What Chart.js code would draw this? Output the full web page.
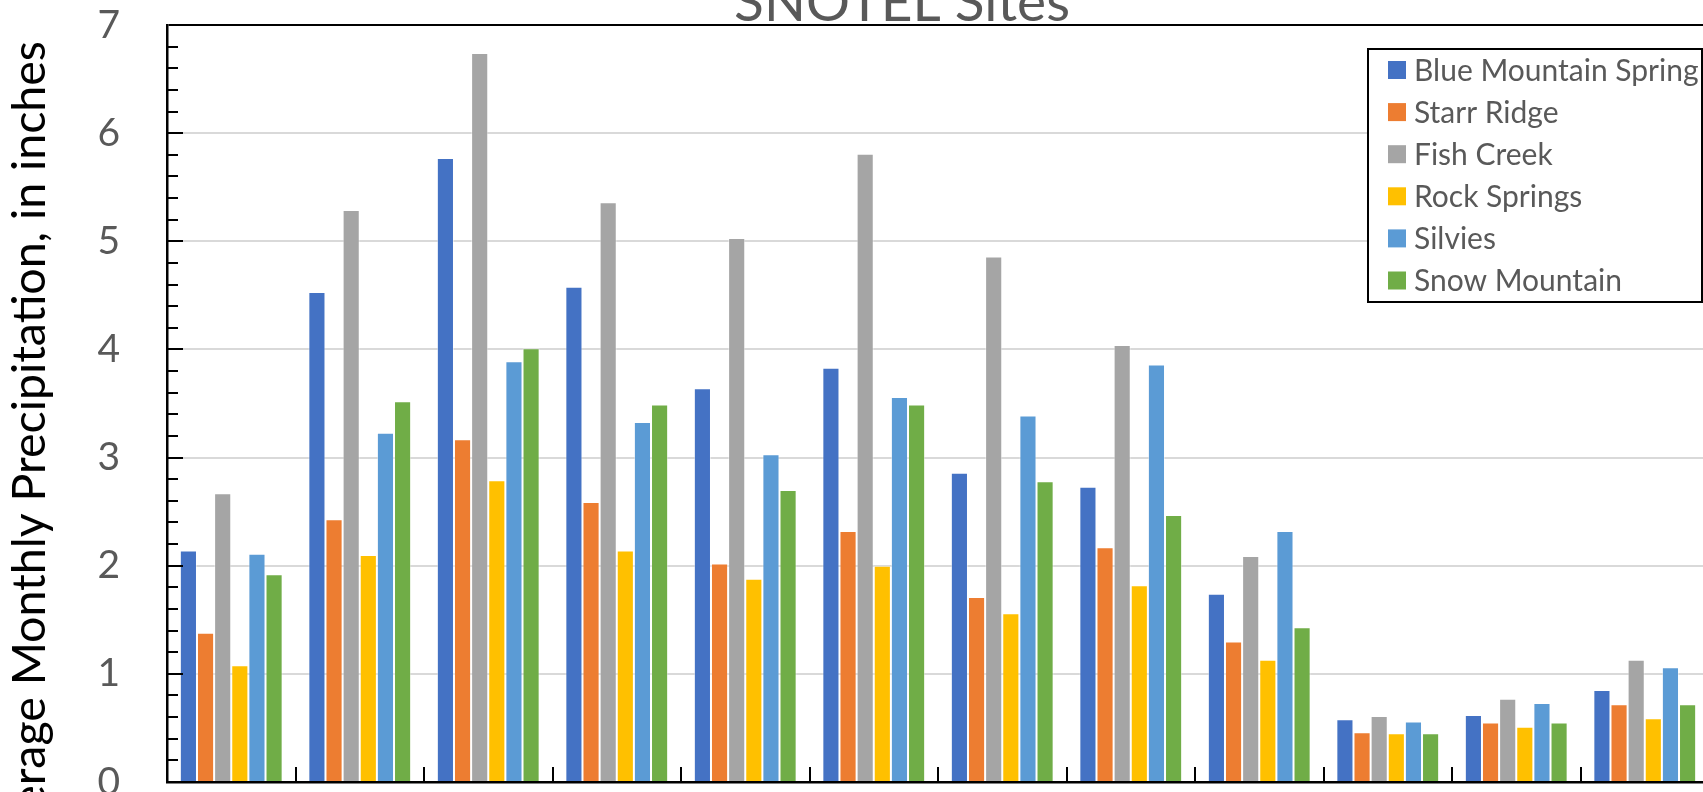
<!DOCTYPE html>
<html>
<head>
<meta charset="utf-8">
<script src="https://cdn.jsdelivr.net/npm/chart.js@4.4.1/dist/chart.umd.min.js"></script>
<style>
  html, body { margin: 0; padding: 0; background: #ffffff; overflow: hidden; }
  #wrap { width: 1720px; height: 792px; }
</style>
</head>
<body>
<div id="wrap"><canvas id="chart" width="1720" height="792"></canvas></div>
<script>
// Water-year months (Oct – Sep)
const months = ['Oct', 'Nov', 'Dec', 'Jan', 'Feb', 'Mar', 'Apr', 'May', 'Jun', 'Jul', 'Aug', 'Sep'];

// Average monthly precipitation, inches
const blueMountainSpring = [2.14, 4.53, 5.77, 4.58, 3.64, 3.83, 2.86, 2.73, 1.74, 0.58, 0.62, 0.85];
const starrRidge         = [1.38, 2.43, 3.17, 2.59, 2.02, 2.32, 1.71, 2.17, 1.30, 0.46, 0.55, 0.72];
const fishCreek          = [2.67, 5.29, 6.74, 5.36, 5.03, 5.81, 4.86, 4.04, 2.09, 0.61, 0.77, 1.13];
const rockSprings        = [1.08, 2.10, 2.79, 2.14, 1.88, 2.00, 1.56, 1.82, 1.13, 0.45, 0.51, 0.59];
const silvies            = [2.11, 3.23, 3.89, 3.33, 3.03, 3.56, 3.39, 3.86, 2.32, 0.56, 0.73, 1.06];
const snowMountain       = [1.92, 3.52, 4.01, 3.49, 2.70, 3.49, 2.78, 2.47, 1.43, 0.45, 0.55, 0.72];

const siteNames = ['Blue Mountain Spring', 'Starr Ridge', 'Fish Creek', 'Rock Springs', 'Silvies', 'Snow Mountain'];
const siteColors = ['#4472C4', '#ED7D31', '#A5A5A5', '#FFC000', '#5B9BD5', '#70AD47'];
const siteValues = [blueMountainSpring, starrRidge, fishCreek, rockSprings, silvies, snowMountain];

const chartTitle = 'SNOTEL Sites';
const yAxisTitle = 'Average Monthly Precipitation, in inches';
const yMin = 0, yMax = 7, yStep = 1, yMinorStep = 0.2;

const FONT = 'Lato, "Open Sans", "DejaVu Sans", sans-serif';
const TEXT_GRAY = '#595959';

// Title, axis title, inside tick marks and the framed legend
const decorations = {
  id: 'decorations',
  afterDatasetsDraw(chart) {
    const { ctx, chartArea, scales } = chart;
    const y = scales.y, x = scales.x;
    ctx.save();
    ctx.strokeStyle = '#000000';
    ctx.lineWidth = 2;
    // y-axis major / minor ticks pointing into the plot
    const n = Math.round((yMax - yMin) / yMinorStep);
    for (let i = 1; i < n; i++) {
      const v = yMin + i * yMinorStep;
      const py = Math.round(y.getPixelForValue(v));
      const major = Math.abs(v - Math.round(v)) < 1e-6;
      ctx.beginPath();
      ctx.moveTo(chartArea.left, py);
      ctx.lineTo(chartArea.left + (major ? 16 : 11), py);
      ctx.stroke();
    }
    // category separators on the x axis
    for (let i = 1; i < months.length; i++) {
      const px = Math.round((x.getPixelForValue(i - 1) + x.getPixelForValue(i)) / 2);
      ctx.beginPath();
      ctx.moveTo(px, chartArea.bottom);
      ctx.lineTo(px, chartArea.bottom - 15);
      ctx.stroke();
    }
    ctx.restore();
  },
  afterDraw(chart) {
    const { ctx } = chart;
    ctx.save();
    // chart title
    ctx.fillStyle = TEXT_GRAY;
    ctx.font = '55px ' + FONT;
    ctx.textAlign = 'center';
    ctx.textBaseline = 'alphabetic';
    ctx.fillText(chartTitle, 902, 20.5);

    // rotated y-axis title
    ctx.save();
    ctx.translate(45, 41);
    ctx.rotate(-Math.PI / 2);
    ctx.fillStyle = '#000000';
    ctx.font = '46.5px ' + FONT;
    ctx.textAlign = 'right';
    ctx.textBaseline = 'alphabetic';
    ctx.fillText(yAxisTitle, 0, 0);
    ctx.restore();

    // legend box
    const lx = 1368, ly = 49, lw = 334, lh = 253;
    ctx.fillStyle = '#ffffff';
    ctx.fillRect(lx, ly, lw, lh);
    ctx.strokeStyle = '#000000';
    ctx.lineWidth = 2;
    ctx.strokeRect(lx, ly, lw, lh);
    ctx.font = '30px ' + FONT;
    ctx.textAlign = 'left';
    ctx.textBaseline = 'alphabetic';
    chart.data.datasets.forEach((ds, i) => {
      const cy = 70 + i * 42.1;
      ctx.fillStyle = ds.backgroundColor;
      ctx.fillRect(1388, cy - 9, 18, 18);
      ctx.fillStyle = TEXT_GRAY;
      ctx.fillText(ds.label, 1414, cy + 10.5);
    });
    ctx.restore();
  }
};

new Chart(document.getElementById('chart'), {
  type: 'bar',
  data: {
    labels: months,
    datasets: siteNames.map((name, i) => ({
      label: name,
      data: siteValues[i],
      backgroundColor: siteColors[i],
      borderColor: 'rgba(255,255,255,0.45)',
      borderWidth: 1,
      categoryPercentage: 0.8,
      barPercentage: 1.0
    }))
  },
  options: {
    responsive: false,
    animation: false,
    events: [],
    layout: { padding: { top: 25, right: 11, bottom: 0, left: 0 } },
    plugins: {
      legend: { display: false },
      title: { display: false },
      tooltip: { enabled: false }
    },
    scales: {
      x: {
        grid: { display: false, drawTicks: false },
        border: { display: true, color: '#000000', width: 2.5 },
        ticks: { display: false },
        afterFit(scale) {
          scale.height = 10;
          scale.paddingLeft = 0; scale.paddingRight = 0;
          scale.paddingTop = 0; scale.paddingBottom = 0;
        }
      },
      y: {
        min: yMin,
        max: yMax,
        ticks: {
          stepSize: yStep,
          padding: 47,
          color: TEXT_GRAY,
          font: { family: FONT, size: 39 }
        },
        grid: {
          drawTicks: false,
          color: (c) => (c.tick && c.tick.value === yMax ? '#000000' : '#d9d9d9'),
          lineWidth: 2
        },
        border: { display: true, color: '#000000', width: 2.5 },
        afterFit(scale) {
          scale.width = 167;
          scale.paddingTop = 0; scale.paddingBottom = 0;
          scale.paddingLeft = 0; scale.paddingRight = 0;
        }
      }
    }
  },
  plugins: [decorations]
});
</script>
</body>
</html>
